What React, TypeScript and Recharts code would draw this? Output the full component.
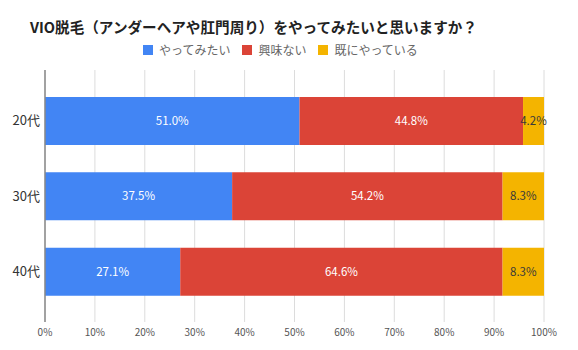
import { BarChart, Bar, XAxis, YAxis, CartesianGrid, LabelList } from "recharts";

const TITLE = "VIO脱毛（アンダーヘアや肛門周り）をやってみたいと思いますか？";
const FONT = '"Noto Sans CJK JP", "Noto Sans", sans-serif';

const AGES = ["20代", "30代", "40代"];
const WANT = [51.0, 37.5, 27.1];
const NOT_INTERESTED = [44.8, 54.2, 64.6];
const ALREADY = [4.2, 8.3, 8.3];
const X_TICKS = [0, 10, 20, 30, 40, 50, 60, 70, 80, 90, 100];

const SERIES = [
  { key: "want", name: "やってみたい", color: "#4285F4", text: "#ffffff" },
  { key: "no", name: "興味ない", color: "#DB4437", text: "#ffffff" },
  { key: "already", name: "既にやっている", color: "#F4B400", text: "#3a3a3a" },
];

const data = AGES.map((age, i) => ({
  age,
  want: WANT[i],
  no: NOT_INTERESTED[i],
  already: ALREADY[i],
}));

// ── legend row under the title ───────────────────────────────────────────────
function LegendRow() {
  return (
    <div
      style={{
        position: "absolute", left: 143, top: 42, display: "flex", alignItems: "center",
        fontFamily: FONT, fontSize: 12, color: "#666", lineHeight: "16px",
      }}
    >
      {SERIES.map((s) => (
        <div key={s.key} style={{ display: "flex", alignItems: "center", marginRight: 12 }}>
          <span style={{ width: 10, height: 10, background: s.color, display: "inline-block", marginRight: 6 }} />
          <span>{s.name}</span>
        </div>
      ))}
    </div>
  );
}

export default function App() {
  return (
    <div style={{ position: "absolute", left: 0, top: 0, width: 578, height: 350, background: "#fff" }}>
      <div
        style={{
          position: "absolute", left: 30, top: 17, fontFamily: FONT, fontSize: 14.6,
          fontWeight: 700, color: "#222", whiteSpace: "nowrap", lineHeight: "20px",
        }}
      >
        {TITLE}
      </div>
      <LegendRow />
      <BarChart
        width={578}
        height={350}
        data={data}
        layout="vertical"
        margin={{ top: 70, right: 34, bottom: 8, left: 0 }}
      >
        <CartesianGrid horizontal={false} stroke="#dcdcdc" />
        <XAxis
          type="number"
          domain={[0, 100]}
          ticks={X_TICKS}
          tickFormatter={(v: number) => `${v}%`}
          axisLine={false}
          tickLine={false}
          tickSize={0}
          tickMargin={7}
          height={20}
          interval={0}
          tick={{ fontSize: 10, fill: "#555", fontFamily: FONT }}
        />
        <YAxis
          type="category"
          dataKey="age"
          width={45}
          axisLine={{ stroke: "#888", strokeWidth: 1.5 }}
          tickLine={false}
          tickSize={0}
          tickMargin={5}
          padding={{ top: 13, bottom: 13 }}
          tick={{ fontSize: 13, fill: "#333", fontFamily: FONT }}
        />
        {SERIES.map((s) => (
          <Bar key={s.key} dataKey={s.key} name={s.name} stackId="a" fill={s.color} barSize={48} isAnimationActive={false}>
            <LabelList
              dataKey={s.key}
              position="center"
              formatter={(v: number) => `${v.toFixed(1)}%`}
              style={{ fontSize: 11.5, fill: s.text, fontFamily: FONT }}
            />
          </Bar>
        ))}
      </BarChart>
    </div>
  );
}
